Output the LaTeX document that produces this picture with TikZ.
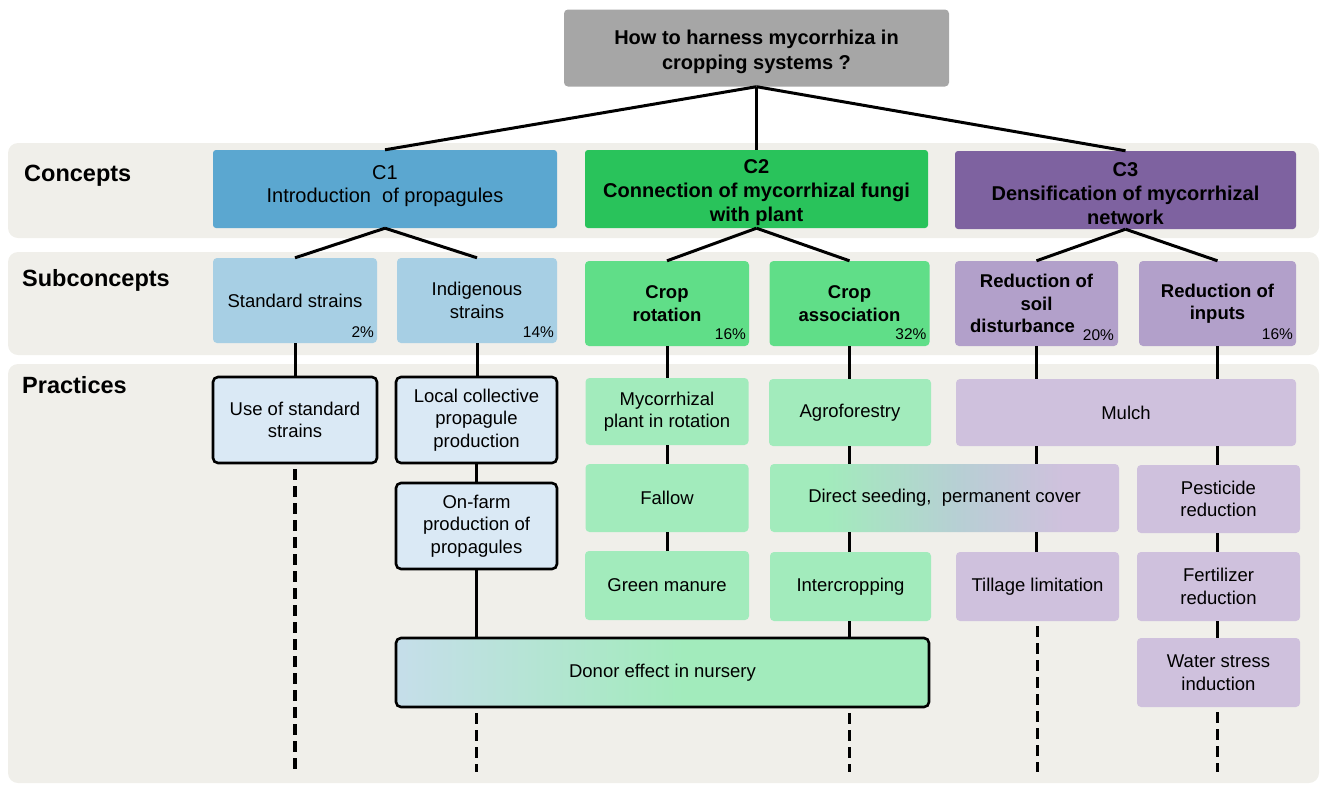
\documentclass[tikz,border=0pt]{standalone}
\usepackage{fontspec}
\setmainfont{Liberation Sans}
\usetikzlibrary{calc}

\definecolor{bandbg}{HTML}{F0EFEA}
\definecolor{topgray}{HTML}{A6A6A6}
\definecolor{cblue}{HTML}{5BA7D0}
\definecolor{cgreen}{HTML}{29C35B}
\definecolor{cpurple}{HTML}{7E62A0}
\definecolor{sblue}{HTML}{A7CFE4}
\definecolor{sgreen}{HTML}{60DE88}
\definecolor{spurple}{HTML}{B2A0CA}
\definecolor{pblue}{HTML}{DAE9F5}
\definecolor{pgreen}{HTML}{A2EBBC}
\definecolor{ppurple}{HTML}{CFC1DD}
\definecolor{dblue}{HTML}{C6DEEA}
\definecolor{midgray}{HTML}{B7CFD4}

\pgfdeclarehorizontalshading{donorshade}{100bp}{color(0bp)=(dblue); color(25bp)=(dblue); color(52bp)=(pgreen); color(100bp)=(pgreen)}
\pgfdeclarehorizontalshading{directshade}{100bp}{color(0bp)=(pgreen); color(33bp)=(pgreen); color(52bp)=(midgray); color(67bp)=(ppurple); color(100bp)=(ppurple)}

\begin{document}
\begin{tikzpicture}[x=1pt,y=-1pt,
  base/.style={inner sep=0pt, align=center, text=black, font=\fontsize{18.5}{22.5}\selectfont},
  band/.style={fill=bandbg, rounded corners=10pt},
  lab/.style={inner sep=0pt, font=\fontsize{23.5}{27}\selectfont\bfseries},
  topbox/.style={inner sep=0pt, fill=topgray, rounded corners=4pt},
  toptext/.style={base, font=\fontsize{20}{25}\selectfont\bfseries},
  conbox/.style={inner sep=0pt, rounded corners=3pt, minimum height=78pt},
  context/.style={base, font=\fontsize{20}{24}\selectfont\bfseries},
  subbox/.style={base, rounded corners=4pt, minimum height=85pt},
  boldsub/.style={subbox, font=\fontsize{18.5}{22.5}\selectfont\bfseries},
  pracbox/.style={base, rounded corners=4pt},
  framed/.style={draw=black, line width=2.6pt, rounded corners=5pt},
  pct/.style={inner sep=0pt, font=\fontsize{15.5}{18}\selectfont},
  link/.style={line width=3pt, black},
  dlink/.style={line width=3.6pt, black, dash pattern=on 11pt off 6pt}
]
\useasboundingbox (0,0) rectangle (1320,785);

% background bands
\fill[band] (8,143) rectangle (1319,238);
\fill[band] (8,252) rectangle (1319,355);
\fill[band] (8,364) rectangle (1319,783);

% row labels
\node[lab, anchor=base west] (lc) at (24,181) {Concepts};
\node[lab, anchor=base west] (ls) at (22,286) {Subconcepts};
\node[lab, anchor=base west] (lp) at (22,393) {Practices};

% top question
\node[topbox, minimum width=385pt, minimum height=77pt] (top) at (756.5,48) {};
\node[toptext] (topt) at (756.5,51.5) {How to harness mycorrhiza in\\cropping systems ?};

% concepts
\node[conbox, fill=cblue, minimum width=344pt] (c1) at (385,189) {};
\node[context, font=\fontsize{20}{23.5}\selectfont] (c1t) at (385,186) {C1\\Introduction\ \ of propagules};
\node[conbox, fill=cgreen, minimum width=343pt] (c2) at (756.5,189) {};
\node[context] (c2t) at (756.5,193) {C2\\Connection of mycorrhizal fungi\\with plant};
\node[conbox, fill=cpurple, minimum width=341pt] (c3) at (1125.5,190) {};
\node[context] (c3t) at (1125.5,193.5) {C3\\Densification of mycorrhizal\\network};

% subconcepts
\node[subbox, fill=sblue, minimum width=164pt] (ss) at (295,300.5) {Standard strains};
\node[subbox, fill=sblue, minimum width=160pt] (is) at (477,300.5) {Indigenous\\strains};
\node[boldsub, fill=sgreen, minimum width=164pt] (cr) at (667,303.5) {Crop\\rotation};
\node[boldsub, fill=sgreen, minimum width=160pt] (ca) at (849.5,303.5) {Crop\\association};
\node[boldsub, fill=spurple, minimum width=163pt] (rs) at (1036.5,303.5) {Reduction of\\soil\\\hspace*{-28pt}disturbance};
\node[boldsub, fill=spurple, minimum width=157pt] (ri) at (1217.5,303.5) {Reduction of\\inputs};

% percentages
\node[pct, anchor=base east] (p1) at ($(ss.south east)+(-3,-6)$) {2\%};
\node[pct, anchor=base east] (p2) at ($(is.south east)+(-3,-6)$) {14\%};
\node[pct, anchor=base east] (p3) at ($(cr.south east)+(-3,-7)$) {16\%};
\node[pct, anchor=base east] (p4) at ($(ca.south east)+(-3,-7)$) {32\%};
\node[pct, anchor=base east] (p5) at ($(rs.south east)+(-4,-6)$) {20\%};
\node[pct, anchor=base east] (p6) at ($(ri.south east)+(-3,-7)$) {16\%};

% practices
\node[pracbox, framed, fill=pblue, minimum width=164pt, minimum height=86pt] (use) at (295,420) {Use of standard\\strains};
\node[pracbox, framed, fill=pblue, minimum width=161pt, minimum height=86pt] (local) at (476.5,420) {Local collective\\propagule\\production};
\node[pracbox, framed, fill=pblue, minimum width=161pt, minimum height=86pt] (onfarm) at (476.5,526) {On-farm\\production of\\propagules};
\node[pracbox, framed, shading=donorshade, minimum width=533pt, minimum height=69pt] (donor) at (662.5,672.5) {Donor effect in nursery};

\node[pracbox, fill=pgreen, minimum width=163pt, minimum height=67pt] (myco) at (667,411.5) {Mycorrhizal\\plant in rotation};
\node[pracbox, fill=pgreen, minimum width=163pt, minimum height=68pt] (fallow) at (667,498) {Fallow};
\node[pracbox, fill=pgreen, minimum width=164pt, minimum height=69pt] (gm) at (667,585.5) {Green manure};

\node[pracbox, fill=pgreen, minimum width=162pt, minimum height=67pt] (agro) at (850,412.5) {Agroforestry};
\node[pracbox, shading=directshade, minimum width=349pt, minimum height=68pt] (direct) at (944.5,498) {Direct seeding,\ \ permanent cover};
\node[pracbox, fill=pgreen, minimum width=161pt, minimum height=69pt] (inter) at (850.5,586.5) {Intercropping};

\node[pracbox, fill=ppurple, minimum width=340pt, minimum height=67pt] (mulch) at (1126,412.5) {Mulch};
\node[pracbox, fill=ppurple, minimum width=163pt, minimum height=69pt] (till) at (1037.5,586.5) {Tillage limitation};

\node[pracbox, fill=ppurple, minimum width=163pt, minimum height=68pt] (pest) at (1218.5,499) {Pesticide\\reduction};
\node[pracbox, fill=ppurple, minimum width=163pt, minimum height=69pt] (fert) at (1218.5,586.5) {Fertilizer\\reduction};
\node[pracbox, fill=ppurple, minimum width=163pt, minimum height=69pt] (water) at (1218.5,672.5) {Water stress\\induction};

% bottom end of dashed lines
\coordinate (bot) at (0,772);

% top links
\draw[link] (top.south) -- (c1.north);
\draw[link] (top.south) -- (c2.north);
\draw[link] (top.south) -- (c3.north);

% concept to subconcept
\draw[link] (c1.south) -- (ss.north);
\draw[link] (c1.south) -- (is.north);
\draw[link] (c2.south) -- (cr.north);
\draw[link] (c2.south) -- (ca.north);
\draw[link] (c3.south) -- (rs.north);
\draw[link] (c3.south) -- (ri.north);

% column 1
\draw[link] (ss.south) -- (use.north);
\draw[dlink] ($(use.south)+(0,5)$) -- (use.south |- bot);

% column 2
\draw[link] (is.south) -- (is.south |- local.north);
\draw[link] (local.south) -- (local.south |- onfarm.north);
\draw[link] (onfarm.south) -- (onfarm.south |- donor.north);
\draw[dlink] ($(onfarm.south |- donor.south)+(0,5)$) -- (onfarm.south |- bot);

% column 3
\draw[link] (cr.south) -- (cr.south |- myco.north);
\draw[link] (myco.south) -- (myco.south |- fallow.north);
\draw[link] (fallow.south) -- (fallow.south |- gm.north);

% column 4
\draw[link] (ca.south) -- (ca.south |- agro.north);
\draw[link] (ca.south |- agro.south) -- (ca.south |- direct.north);
\draw[link] (ca.south |- direct.south) -- (ca.south |- inter.north);
\draw[link] (ca.south |- inter.south) -- (ca.south |- donor.north);
\draw[dlink] ($(ca.south |- donor.south)+(0,5)$) -- (ca.south |- bot);

% column 5
\draw[link] (rs.south) -- (rs.south |- mulch.north);
\draw[link] (rs.south |- mulch.south) -- (rs.south |- direct.north);
\draw[link] (rs.south |- direct.south) -- (rs.south |- till.north);
\draw[dlink] ($(till.south)+(0,5)$) -- (till.south |- bot);

% column 6
\draw[link] (ri.south) -- (ri.south |- mulch.north);
\draw[link] (ri.south |- mulch.south) -- (ri.south |- pest.north);
\draw[link] (ri.south |- pest.south) -- (ri.south |- fert.north);
\draw[link] (ri.south |- fert.south) -- (ri.south |- water.north);
\draw[dlink] ($(ri.south |- water.south)+(0,5)$) -- (ri.south |- bot);
\end{tikzpicture}
\end{document}
